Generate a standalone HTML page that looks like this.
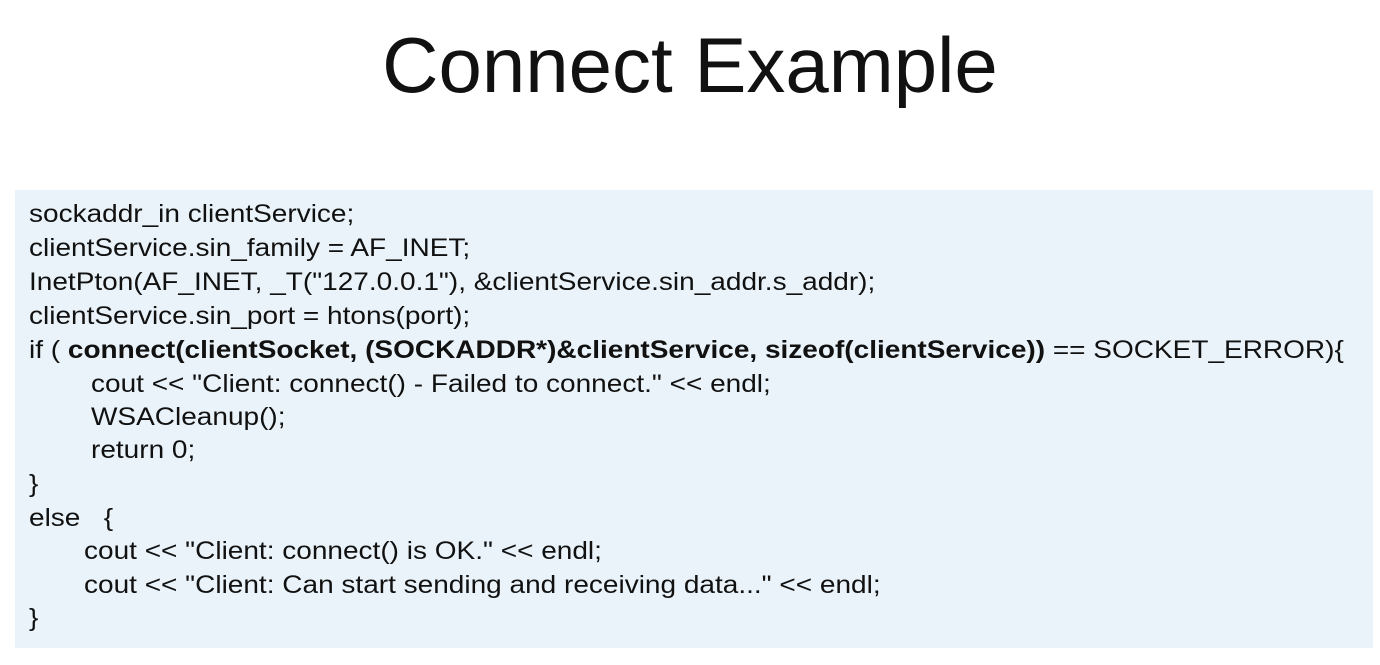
<!DOCTYPE html>
<html><head><meta charset="utf-8"><style>
body{margin:0;width:1380px;height:665px;background:#fff;position:relative;overflow:hidden;font-family:"Liberation Sans",Arial,sans-serif;}
h1{position:absolute;left:0;width:1380px;top:20px;margin:0;text-align:center;font-weight:normal;font-size:78px;color:#111;}
.box{position:absolute;left:15px;top:190px;width:1358px;height:458px;background:#e9f3f9;}
.l{position:absolute;left:29px;font-size:25px;color:#111;white-space:pre;line-height:28px;transform:scaleX(1.12);transform-origin:0 0;}
b{font-weight:bold;}
</style></head><body>
<h1>Connect Example</h1>
<div class="box"></div>
<div class="l" style="top:200px">sockaddr_in clientService;</div>
<div class="l" style="top:234px">clientService.sin_family = AF_INET;</div>
<div class="l" style="top:268px">InetPton(AF_INET, _T("127.0.0.1"), &amp;clientService.sin_addr.s_addr);</div>
<div class="l" style="top:302px">clientService.sin_port = htons(port);</div>
<div class="l" style="top:336px">if ( <b>connect(clientSocket, (SOCKADDR*)&amp;clientService, sizeof(clientService))</b> == SOCKET_ERROR){</div>
<div class="l" style="top:370px;left:91px">cout &lt;&lt; "Client: connect() - Failed to connect." &lt;&lt; endl;</div>
<div class="l" style="top:403px;left:91px">WSACleanup();</div>
<div class="l" style="top:436px;left:91px">return 0;</div>
<div class="l" style="top:470px">}</div>
<div class="l" style="top:504px">else   {</div>
<div class="l" style="top:537px;left:84px">cout &lt;&lt; "Client: connect() is OK." &lt;&lt; endl;</div>
<div class="l" style="top:571px;left:84px">cout &lt;&lt; "Client: Can start sending and receiving data..." &lt;&lt; endl;</div>
<div class="l" style="top:604px">}</div>
</body></html>
